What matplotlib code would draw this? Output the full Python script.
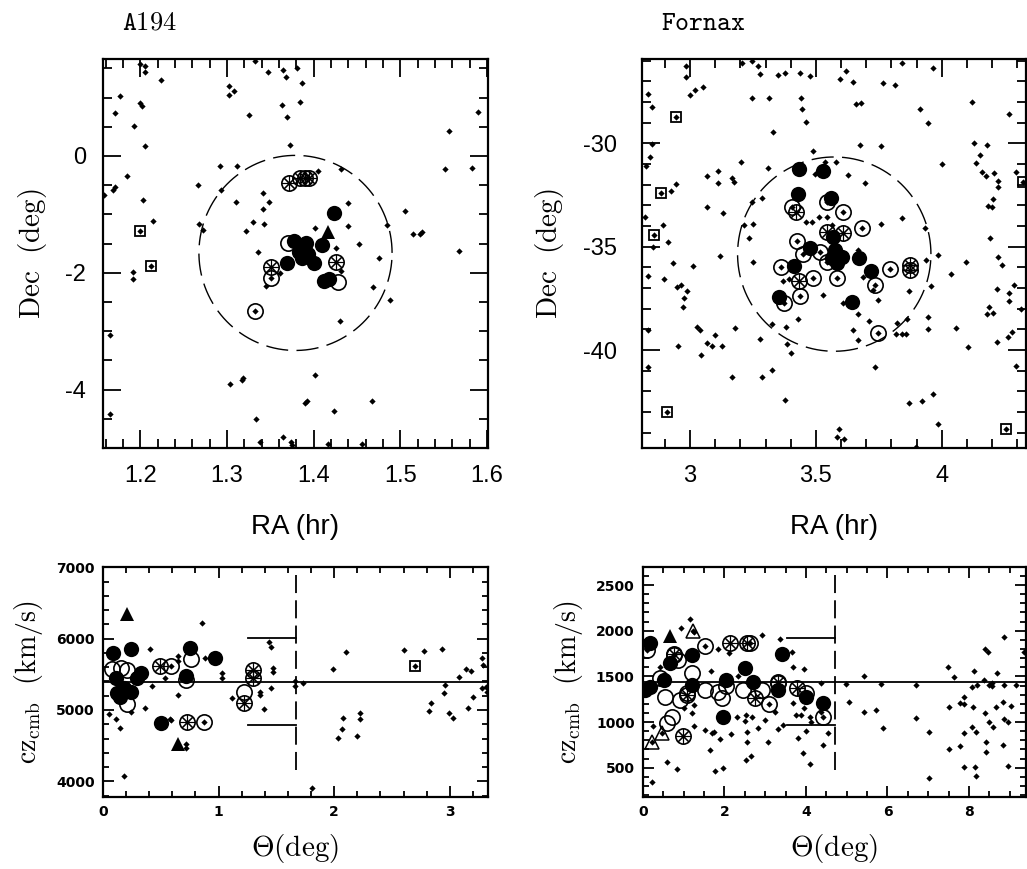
import numpy as np
import matplotlib
matplotlib.use("Agg")
import matplotlib.pyplot as plt
from matplotlib.ticker import MultipleLocator

plt.rcParams['mathtext.fontset'] = 'cm'

# ---------------- A194 sky ----------------
a194_dots_ra = [1.200,1.205,1.205,1.224,1.332,1.347,1.365,1.368,1.381,1.387,1.302,1.302,1.308,1.177,1.171,1.200,1.202,1.363,1.384,1.325,1.369,1.193,1.205,1.373,1.589,1.556,
 1.292,1.311,1.405,1.431,1.551,1.583,1.185,1.171,1.169,1.158,1.266,1.293,1.342,1.348,1.310,1.342,1.203,1.439,1.505,1.215,1.268,1.330,1.343,1.402,1.439,1.485,1.272,1.322,1.515,1.525,1.523,1.336,1.452,1.426,1.475,1.567,1.192,1.192,1.345,1.361,1.432,1.468,1.488,1.430,1.165,
 1.402,1.303,1.317,1.319,1.467,1.390,1.392,1.423,1.165,1.333,1.338,1.365,1.374,1.375,1.416,1.456,
 1.200,1.212,1.332,1.351]
a194_dots_dec = [1.58,1.54,1.43,1.30,1.63,1.44,1.47,1.35,1.50,1.25,1.19,1.05,1.11,1.02,0.73,0.91,0.86,0.87,0.92,0.70,0.66,0.51,0.17,0.19,0.75,0.42,
 -0.17,-0.17,-0.26,-0.23,-0.22,-0.20,-0.35,-0.53,-0.58,-0.66,-0.49,-0.58,-0.64,-0.79,-0.79,-0.90,-0.75,-0.81,-0.94,-1.11,-1.17,-1.13,-1.16,-1.23,-1.20,-1.18,-1.27,-1.29,-1.34,-1.30,-1.33,-1.64,-1.50,-1.57,-1.74,-1.63,-1.99,-2.11,-2.23,-2.00,-1.97,-2.25,-2.46,-2.83,-3.06,
 -3.75,-3.91,-3.84,-3.81,-4.20,-4.23,-4.19,-4.37,-4.41,-4.50,-4.90,-4.81,-4.90,-4.95,-4.94,-4.94,
 -1.28,-1.88,-2.66,-2.09]
a194_open_ra = [1.332, 1.351, 1.370, 1.428]
a194_open_dec = [-2.66, -2.09, -1.49, -2.15]
a194_star_ra = [1.371, 1.384, 1.390, 1.394, 1.351, 1.426]
a194_star_dec = [-0.47, -0.38, -0.37, -0.38, -1.90, -1.81]
a194_fill_ra = [1.423, 1.377, 1.391, 1.383, 1.393, 1.369, 1.400, 1.386, 1.410, 1.412, 1.418]
a194_fill_dec = [-0.97, -1.45, -1.49, -1.64, -1.68, -1.84, -1.84, -1.75, -1.53, -2.14, -2.11]
a194_tri_ra = [1.416]
a194_tri_dec = [-1.30]
a194_sq_ra = [1.200, 1.212]
a194_sq_dec = [-1.28, -1.88]
a194_center = (1.379, -1.66)
a194_radius = 1.67   # deg

# ---------------- Fornax sky ----------------
fx_dots_ra = [2.983,2.983,3.205,3.245,3.269,3.278,3.348,3.377,3.437,3.477,3.596,3.619,3.646,3.768,3.815,3.841,3.964,2.834,2.850,3.000,3.020,3.053,3.245,3.315,3.441,3.446,3.460,3.660,3.679,3.914,3.944,4.122,4.268,3.331,3.675,3.759,4.130,4.181,2.848,2.841,2.824,3.201,3.309,3.490,3.536,3.580,3.629,3.695,4.000,4.152,4.136,4.162,4.175,4.209,4.223,4.223,4.295,3.066,3.113,3.110,3.166,3.175,2.943,2.925,3.066,3.132,3.285,3.245,2.821,2.894,2.914,2.852,3.119,3.252,3.236,3.216,3.461,3.486,3.514,3.546,3.841,3.759,3.934,4.192,4.199,4.185,4.205,2.931,3.011,3.252,2.833,2.898,2.947,2.964,2.974,2.987,2.970,3.984,4.097,4.037,4.225,4.238,3.938,3.958,3.872,4.219,4.268,4.268,4.289,4.315,4.189,4.181,4.205,3.371,3.393,3.530,3.609,3.689,3.748,3.728,3.669,3.713,3.649,3.669,3.325,3.381,3.430,3.821,3.861,3.819,3.841,3.858,3.947,3.944,4.057,4.103,4.219,4.262,4.278,3.278,3.384,3.401,3.026,3.040,3.099,3.179,3.066,3.086,3.128,2.951,3.042,2.834,2.834,3.166,3.285,3.325,3.377,3.735,3.870,3.923,3.967,3.984,4.295,3.593,3.583,3.613,3.898,3.563,3.669,3.497,
 2.944,2.883,2.857,2.910,4.254,4.325,
 3.404,3.607,3.682,3.424,3.448,3.362,3.490,3.437,3.583,3.735,3.795,3.748,3.374,3.546,3.517,3.543]
fx_dots_dec = [-26.26,-26.77,-26.10,-26.00,-26.26,-26.65,-26.69,-26.58,-26.61,-26.74,-26.90,-26.48,-27.02,-27.10,-27.18,-26.10,-26.37,-27.61,-28.26,-27.66,-27.42,-27.26,-27.79,-27.79,-27.82,-28.34,-28.95,-28.10,-28.03,-28.34,-29.03,-27.98,-28.60,-29.47,-30.08,-30.11,-30.00,-30.08,-30.03,-30.65,-31.08,-30.89,-31.18,-30.37,-30.92,-30.92,-31.53,-31.94,-31.00,-30.56,-30.97,-31.40,-31.56,-31.45,-31.81,-32.13,-31.40,-31.58,-31.34,-31.90,-31.69,-31.85,-31.97,-32.29,-33.06,-33.35,-32.63,-32.82,-33.55,-33.95,-34.76,-35.00,-35.44,-33.90,-34.56,-33.94,-33.79,-33.82,-33.55,-33.55,-33.63,-33.90,-34.11,-34.60,-33.06,-33.02,-32.69,-35.81,-35.92,-35.76,-36.42,-36.55,-36.94,-36.85,-37.50,-37.13,-37.94,-35.40,-35.76,-36.34,-35.52,-35.89,-35.65,-36.90,-37.13,-37.05,-37.26,-37.61,-36.85,-38.02,-37.94,-38.26,-38.19,-36.66,-36.58,-37.34,-37.74,-36.48,-37.58,-37.10,-38.27,-38.58,-39.03,-39.52,-38.74,-38.90,-38.52,-38.68,-38.52,-39.23,-39.23,-39.23,-38.42,-38.98,-38.95,-39.87,-39.63,-39.35,-39.11,-39.48,-39.71,-40.13,-38.87,-39.03,-39.27,-38.95,-39.68,-39.81,-39.81,-39.81,-40.24,-39.03,-40.81,-41.29,-41.32,-40.97,-42.42,-40.84,-42.55,-42.47,-42.13,-43.58,-40.77,-43.82,-44.19,-44.32,-44.68,-33.95,-35.16,-31.48,
 -28.71,-32.42,-34.44,-43.02,-43.82,-31.85,
 -33.06,-33.34,-34.11,-34.71,-35.35,-36.00,-36.50,-37.37,-36.50,-36.85,-36.08,-39.16,-37.71,-32.82,-35.24,-35.73]
fx_open_ra = [3.404,3.607,3.682,3.424,3.448,3.362,3.490,3.437,3.583,3.735,3.795,3.748,3.374,3.546,3.517,3.543]
fx_open_dec = [-33.06,-33.34,-34.11,-34.71,-35.35,-36.00,-36.50,-37.37,-36.50,-36.85,-36.08,-39.16,-37.71,-32.82,-35.24,-35.73]
fx_star_ra = [3.420, 3.543, 3.607, 3.434, 3.874, 3.874]
fx_star_dec = [-33.31, -34.27, -34.35, -36.66, -35.89, -36.13]
fx_fill_ra = [3.433,3.530,3.430,3.559,3.477,3.413,3.355,3.642,3.673,3.718,3.570,3.576,3.603,3.563,3.583]
fx_fill_dec = [-31.26,-31.32,-32.45,-32.63,-35.08,-35.94,-37.42,-37.69,-35.56,-36.16,-34.52,-35.16,-35.48,-35.56,-35.81]
fx_sq_ra = [2.944, 2.883, 2.857, 2.910, 4.254, 4.325]
fx_sq_dec = [-28.71, -32.42, -34.44, -43.02, -43.82, -31.85]
fx_center = (3.573, -35.36)
fx_radius = 4.70   # deg

# ---------------- A194 velocity vs radius ----------------
a194v_dots_th = [0.41,0.54,0.42,0.65,0.65,0.65,0.36,0.58,0.05,0.11,0.15,0.24,0.72,0.72,0.86,0.88,1.03,1.03,1.12,1.36,1.36,1.39,1.45,1.44,1.45,1.47,1.47,1.66,1.66,1.73,0.18,2.10,1.99,2.60,2.78,2.93,3.28,3.29,3.14,3.18,3.08,2.96,2.95,3.31,3.28,3.32,3.20,2.84,2.82,3.16,2.99,3.03,2.22,2.22,2.08,2.07,2.03,2.20,1.81,0.59,0.59,0.87,2.70]
a194v_dots_cz = [5849,5443,5335,5756,5690,5209,5031,4867,4937,4867,4741,4975,4517,4470,6224,5723,5513,5443,5162,5255,5209,5012,5302,5952,5878,5592,5527,5410,5335,5382,4077,5812,5578,5840,5821,5849,5733,5625,5578,5545,5466,5349,5241,5326,5302,5255,5185,5101,4984,5022,4951,4886,4951,4872,4881,4732,4601,4633,3905,5616,4858,4825,5620]
a194v_open_th = [0.08, 0.16, 0.21, 0.76, 0.59, 0.21, 0.87, 1.22, 0.72]
a194v_open_cz = [5574, 5583, 5560, 5709, 5616, 5083, 4825, 5255, 5419]
a194v_star_th = [0.49, 0.73, 1.30, 1.30, 1.22]
a194v_star_cz = [5616, 4825, 5560, 5443, 5092]
a194v_fill_th = [0.09, 0.24, 0.75, 0.97, 0.72, 0.33, 0.11, 0.12, 0.18, 0.24, 0.29, 0.15, 0.50]
a194v_fill_cz = [5803, 5849, 5863, 5733, 5475, 5513, 5443, 5232, 5302, 5255, 5443, 5185, 4821]
a194v_tri_th = [0.21, 0.65]
a194v_tri_cz = [6341, 4517]
a194v_sq_th = [2.70]
a194v_sq_cz = [5620]
a194_mean_cz = 5396
a194_sig_cz = 610

# ---------------- Fornax velocity vs radius ----------------
fxv_dots_th = [1.16,0.93,1.24,1.85,2.10,0.42,1.66,2.34,2.93,3.36,3.65,3.67,3.96,4.38,1.26,1.20,1.00,2.30,2.53,2.67,2.51,2.99,3.24,3.43,3.67,3.75,3.96,3.89,4.10,4.12,4.38,4.53,4.41,4.00,3.81,3.32,3.08,2.55,2.83,2.55,2.16,1.88,1.75,1.69,1.53,1.26,1.65,0.24,0.60,0.83,1.77,1.96,2.53,2.65,3.92,4.10,4.99,5.05,5.42,5.42,5.73,5.83,5.88,6.71,6.71,7.03,7.03,7.48,7.63,7.51,7.77,7.89,7.89,8.08,8.19,8.11,8.12,8.36,8.49,8.56,8.57,8.68,8.39,8.46,8.87,8.86,9.03,8.83,8.67,8.40,8.49,8.58,8.97,8.85,8.08,8.18,7.89,7.78,7.51,8.42,8.42,8.83,8.97,7.89,8.16,9.16,9.36,0.22,8.17,
 0.10,0.75,1.53,2.63,3.10,4.41,1.22,0.22,0.47]
fxv_dots_cz = [2124,2026,1982,1796,1752,1599,1559,1504,1953,1906,1771,1599,1581,1431,1187,1103,1158,1059,1078,1059,1016,1023,1114,968,1213,1078,1151,1078,1059,1001,1114,884,753,906,826,925,779,895,939,782,873,815,895,884,914,961,695,961,560,487,465,494,585,629,666,542,1413,1224,1508,1110,1132,1413,939,1410,1045,888,388,1606,1490,1165,1213,1194,1271,1388,1402,1165,1563,1461,1402,1431,1395,1541,1796,1767,1927,1410,1180,1224,1165,1103,997,950,1005,1030,950,892,877,742,702,786,676,749,520,505,505,1402,1763,341,410,
 1789,1734,1833,1869,1194,1052,1997,779,877]
fxv_open_th = [0.10,0.75,0.87,1.53,1.20,0.55,0.91,1.08,1.53,1.83,1.93,2.04,2.63,2.91,3.10,3.32,4.00,4.41,0.71,0.59,2.45,0.42]
fxv_open_cz = [1789,1734,1679,1833,1534,1278,1242,1315,1351,1333,1260,1395,1869,1351,1194,1424,1315,1052,1059,987,1351,1479]
fxv_star_th = [2.14, 2.55, 0.75, 1.08, 2.75, 3.77, 0.98, 3.32]
fxv_star_cz = [1869, 1869, 1741, 1296, 1260, 1369, 852, 1442]
fxv_fill_th = [0.18,0.18,0.51,0.67,1.20,1.20,2.04,2.51,2.71,3.32,3.40,4.00,4.41,1.96,0.06]
fxv_fill_cz = [1862,1388,1461,1643,1734,1406,1461,1588,1442,1351,1745,1271,1213,1059,1351]
fxv_tri_th = [0.67]
fxv_tri_cz = [1942]
fxv_otri_th = [1.22, 0.22, 0.47]
fxv_otri_cz = [1997, 779, 877]
fx_mean_cz = 1442
fx_sig_cz = 478

W, H = 1027, 869
fig = plt.figure(figsize=(W / 100, H / 100), dpi=100)

def rect(l, t, r, b):
    return [l / W, 1 - b / H, (r - l) / W, (b - t) / H]

ax_tl = fig.add_axes(rect(103, 59, 488, 448))
ax_tr = fig.add_axes(rect(642, 59, 1026, 448))
ax_bl = fig.add_axes(rect(103, 567, 488, 797))
ax_br = fig.add_axes(rect(643, 567, 1026, 797))

DOT = dict(ls='none', marker='D', ms=3.2, color='black', mew=0)
CIRC = 11
OPEN = dict(ls='none', marker='o', ms=CIRC, mfc='none', mec='black', mew=1.2)
STARL = dict(ls='none', marker=(8, 2, 0), ms=CIRC, color='black', mew=0.8)
FILL = dict(ls='none', marker='o', ms=CIRC, color='black', mew=0)
TRI = dict(ls='none', marker='^', ms=10, color='black', mew=0)
OTRI = dict(ls='none', marker='^', ms=10, mfc='none', mec='black', mew=1.1)
SQ = dict(ls='none', marker='s', ms=7.5, mfc='none', mec='black', mew=1.3)

def draw_symbols(ax, dots, opn, star, fill, tri=None, sq=None, otri=None):
    ax.plot(*dots, **DOT)
    if sq is not None:
        ax.plot(*sq, **SQ)
    if otri is not None:
        ax.plot(*otri, **OTRI)
    ax.plot(*opn, **OPEN)
    ax.plot(*star, **OPEN)
    ax.plot(*star, **STARL)
    ax.plot(*fill, **FILL)
    if tri is not None:
        ax.plot(*tri, **TRI)

def circle(ax, center, r):
    t = np.linspace(0, 2 * np.pi, 400)
    ra0, dec0 = center
    ra = ra0 + r * np.cos(t) / (15 * np.cos(np.radians(dec0)))
    dec = dec0 + r * np.sin(t)
    ax.plot(ra, dec, color='black', lw=1.0, dashes=(16, 6))

# top-left
draw_symbols(ax_tl, (a194_dots_ra, a194_dots_dec), (a194_open_ra, a194_open_dec),
             (a194_star_ra, a194_star_dec), (a194_fill_ra, a194_fill_dec),
             tri=(a194_tri_ra, a194_tri_dec), sq=(a194_sq_ra, a194_sq_dec))
circle(ax_tl, a194_center, a194_radius)
ax_tl.set_xlim(1.157, 1.601)
ax_tl.set_ylim(-5.0, 1.66)
ax_tl.xaxis.set_major_locator(MultipleLocator(0.1))
ax_tl.xaxis.set_minor_locator(MultipleLocator(0.02))
ax_tl.yaxis.set_major_locator(MultipleLocator(2))
ax_tl.yaxis.set_minor_locator(MultipleLocator(0.5))

# top-right
draw_symbols(ax_tr, (fx_dots_ra, fx_dots_dec), (fx_open_ra, fx_open_dec),
             (fx_star_ra, fx_star_dec), (fx_fill_ra, fx_fill_dec),
             sq=(fx_sq_ra, fx_sq_dec))
circle(ax_tr, fx_center, fx_radius)
ax_tr.set_xlim(2.809, 4.335)
ax_tr.set_ylim(-44.74, -25.92)
ax_tr.xaxis.set_major_locator(MultipleLocator(0.5))
ax_tr.xaxis.set_minor_locator(MultipleLocator(0.1))
ax_tr.yaxis.set_major_locator(MultipleLocator(5))
ax_tr.yaxis.set_minor_locator(MultipleLocator(1))

sans = ['Liberation Sans', 'DejaVu Sans']
for ax in (ax_tl, ax_tr):
    ax.tick_params(which='both', direction='in', top=True, right=True, width=1.3)
    ax.tick_params(which='major', length=13, labelsize=17, pad=12)
    ax.tick_params(which='minor', length=6.5)
    for s in ax.spines.values():
        s.set_linewidth(1.6)
    for lab in ax.get_xticklabels() + ax.get_yticklabels():
        lab.set_family(sans)
    ax.set_xlabel('RA (hr)', family=sans, fontsize=20, labelpad=20)
    ax.set_ylabel(r'$\mathrm{Dec\ \ (deg)}$', fontsize=21, labelpad=12)

ax_tl.yaxis.set_major_formatter(plt.FuncFormatter(lambda v, p: '%g' % v))
ax_tr.yaxis.set_major_formatter(plt.FuncFormatter(lambda v, p: '%g' % v))
ax_tl.xaxis.set_major_formatter(plt.FuncFormatter(lambda v, p: '%g' % round(v, 2)))
ax_tr.xaxis.set_major_formatter(plt.FuncFormatter(lambda v, p: '%g' % round(v, 2)))
ax_tr.tick_params(axis='y', which='major', pad=18)

fig.text(122 / W, 1 - 23 / H, r'$\mathtt{A194}$', fontsize=19, va='center')
fig.text(661 / W, 1 - 23 / H, r'$\mathtt{Fornax}$', fontsize=19, va='center')

# bottom-left
draw_symbols(ax_bl, (a194v_dots_th, a194v_dots_cz), (a194v_open_th, a194v_open_cz),
             (a194v_star_th, a194v_star_cz), (a194v_fill_th, a194v_fill_cz),
             tri=(a194v_tri_th, a194v_tri_cz), sq=(a194v_sq_th, a194v_sq_cz))
ax_bl.set_xlim(0, 3.33)
ax_bl.set_ylim(3780, 7005)
ax_bl.xaxis.set_major_locator(MultipleLocator(1))
ax_bl.xaxis.set_minor_locator(MultipleLocator(0.2))
ax_bl.yaxis.set_major_locator(MultipleLocator(1000))
ax_bl.yaxis.set_minor_locator(MultipleLocator(200))

# bottom-right
draw_symbols(ax_br, (fxv_dots_th, fxv_dots_cz), (fxv_open_th, fxv_open_cz),
             (fxv_star_th, fxv_star_cz), (fxv_fill_th, fxv_fill_cz),
             tri=(fxv_tri_th, fxv_tri_cz), otri=(fxv_otri_th, fxv_otri_cz))
ax_br.set_xlim(0, 9.4)
ax_br.set_ylim(180, 2697)
ax_br.xaxis.set_major_locator(MultipleLocator(2))
ax_br.xaxis.set_minor_locator(MultipleLocator(0.5))
ax_br.yaxis.set_major_locator(MultipleLocator(500))
ax_br.yaxis.set_minor_locator(MultipleLocator(100))

for ax, R, m, s in ((ax_bl, a194_radius, a194_mean_cz, a194_sig_cz),
                    (ax_br, fx_radius, fx_mean_cz, fx_sig_cz)):
    ax.axhline(m, color='black', lw=1.3)
    ax.axvline(R, ymin=0.117, ymax=0.98, color='black', lw=1.3, dashes=(10, 4))
    ax.plot([0.75 * R, R], [m + s, m + s], color='black', lw=1.3)
    ax.plot([0.75 * R, R], [m - s, m - s], color='black', lw=1.3)
    ax.tick_params(which='both', direction='in', top=True, right=True, width=1.3)
    ax.tick_params(which='major', length=8, labelsize=10, pad=6)
    ax.tick_params(which='minor', length=4.5)
    for lab in ax.get_xticklabels() + ax.get_yticklabels():
        lab.set_fontweight('bold')
    for sp in ax.spines.values():
        sp.set_linewidth(1.6)
    ax.set_xlabel(r'$\Theta\mathrm{(deg)}$', fontsize=21, labelpad=9)
    ax.set_ylabel(r'$\mathrm{cz_{cmb}\ \ (km/s)}$', fontsize=20, labelpad=8)

fig.savefig('out.png', dpi=100)
